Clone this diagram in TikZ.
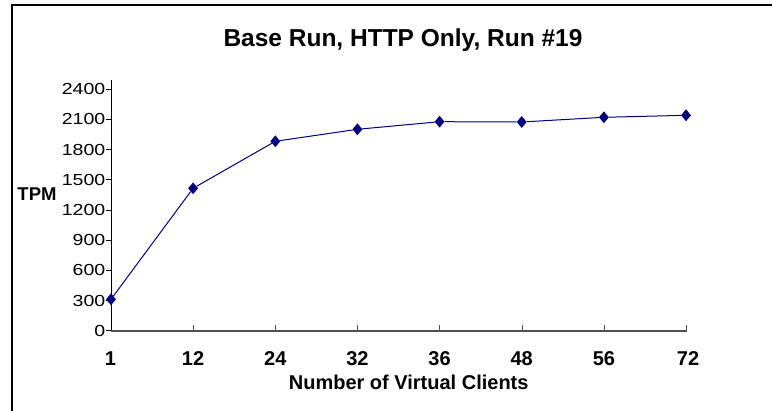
\documentclass[tikz,border=0pt]{standalone}
\usepackage{fontspec}
\setmainfont{Liberation Sans}
\newfontfamily\tickfont[FakeStretch=1.22]{Liberation Sans}
\usepackage{xcolor}
\usepackage{tikz}
\usetikzlibrary{shapes.geometric}

\definecolor{seriesblue}{HTML}{000080}
\definecolor{axisgray}{HTML}{505050}

\tikzset{
  ticklabel/.style={font=\tickfont\fontsize{16}{16}\selectfont, inner sep=0pt},
  catlabel/.style={font=\bfseries\fontsize{20}{20}\selectfont, inner sep=0pt},
  marker/.style={diamond, fill=seriesblue, draw=none, inner sep=0pt,
                 minimum width=10pt, minimum height=12pt},
  series/.style={draw=seriesblue, line width=1pt}
}

\begin{document}
\begin{tikzpicture}[x=1pt,y=-1pt]
        \useasboundingbox (0,0) rectangle (772,411);
        % Chart frame, cut off on the right and at the bottom
        \draw[line width=1.3pt] (12,411) -- (12,5) -- (772,5);

        % Title
        \node[anchor=base, inner sep=0pt, font=\bfseries\fontsize{24.5}{24.5}\selectfont]
             (title) at (403,46.7) {Base Run, HTTP Only, Run \#19};

        % Value axis with ticks to the left
        \draw[line width=0.9pt] (111,80.5) -- (111,331);
        \draw (106,330.7) -- (111,330.7);
        \draw (106,300.5) -- (111,300.5);
        \draw (106,270.3) -- (111,270.3);
        \draw (106,240.1) -- (111,240.1);
        \draw (106,209.9) -- (111,209.9);
        \draw (106,179.7) -- (111,179.7);
        \draw (106,149.5) -- (111,149.5);
        \draw (106,119.3) -- (111,119.3);
        \draw (106,89.1) -- (111,89.1);

        \node[ticklabel, anchor=east] (y0)    at (105.5,330.7) {0};
        \node[ticklabel, anchor=east] (y300)  at (105.5,300.5) {300};
        \node[ticklabel, anchor=east] (y600)  at (105.5,270.3) {600};
        \node[ticklabel, anchor=east] (y900)  at (105.5,240.1) {900};
        \node[ticklabel, anchor=east] (y1200) at (105.5,209.9) {1200};
        \node[ticklabel, anchor=east] (y1500) at (105.5,179.7) {1500};
        \node[ticklabel, anchor=east] (y1800) at (105.5,149.5) {1800};
        \node[ticklabel, anchor=east] (y2100) at (105.5,119.3) {2100};
        \node[ticklabel, anchor=east] (y2400) at (105.5,89.1) {2400};

        \node[font=\bfseries\fontsize{18.5}{18.5}\selectfont, inner sep=0pt] (ytitle) at (37,194) {TPM};

        % Category axis with ticks pointing up
        \draw[axisgray, line width=1.6pt] (111,331) -- (686.5,331);
        \draw[axisgray] (193.1,331) -- (193.1,325);
        \draw[axisgray] (275.3,331) -- (275.3,325);
        \draw[axisgray] (357.4,331) -- (357.4,325);
        \draw[axisgray] (439.6,331) -- (439.6,325);
        \draw[axisgray] (521.7,331) -- (521.7,325);
        \draw[axisgray] (603.9,331) -- (603.9,325);
        \draw[axisgray] (686,331) -- (686,325);

        \node[catlabel] (x1)  at (110.5,359) {1};
        \node[catlabel] (x12) at (193.1,359) {12};
        \node[catlabel] (x24) at (275.3,359) {24};
        \node[catlabel] (x32) at (357.4,359) {32};
        \node[catlabel] (x36) at (439.6,359) {36};
        \node[catlabel] (x48) at (521.7,359) {48};
        \node[catlabel] (x56) at (603.9,359) {56};
        \node[catlabel] (x72) at (688,359) {72};

        \node[catlabel] (xtitle) at (408.7,382.5) {Number of Virtual Clients};

        % Data points
        \node[marker] (p1) at (111,299.3) {};
        \node[marker] (p2) at (193.1,188.3) {};
        \node[marker] (p3) at (275.3,141.3) {};
        \node[marker] (p4) at (357.4,129.3) {};
        \node[marker] (p5) at (439.6,121.7) {};
        \node[marker] (p6) at (521.7,122) {};
        \node[marker] (p7) at (603.9,117.3) {};
        \node[marker] (p8) at (686,115.3) {};

        \draw[series] (p1) -- (p2) -- (p3) -- (p4) -- (p5) -- (p6) -- (p7) -- (p8);
    \end{tikzpicture}
\end{document}
